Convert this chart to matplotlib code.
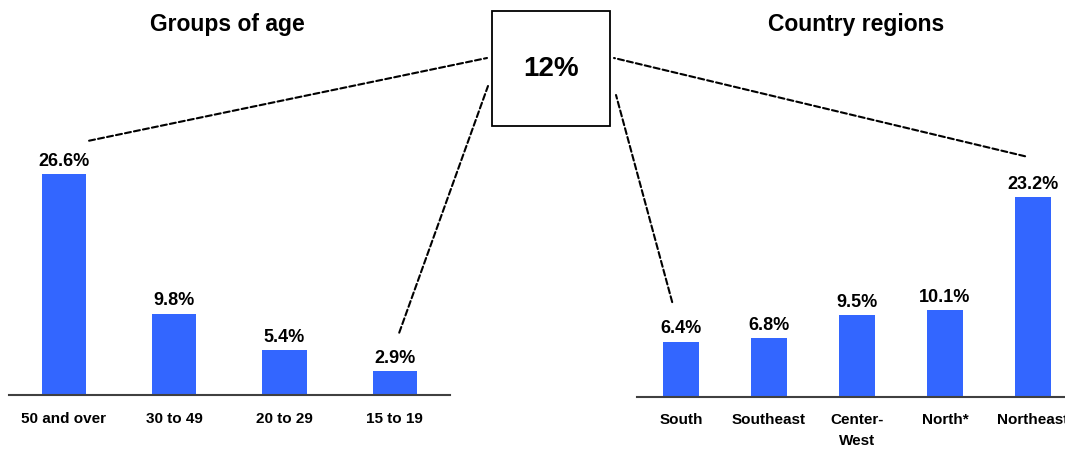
import matplotlib
matplotlib.use("Agg")
import matplotlib.pyplot as plt
from matplotlib.patches import Rectangle, ConnectionPatch

plt.rcParams["font.family"] = ["Liberation Sans", "DejaVu Sans"]
plt.rcParams["font.weight"] = "bold"

# Data
total_label = "12%"
age_groups = ["50 and over", "30 to 49", "20 to 29", "15 to 19"]
age_values = [26.6, 9.8, 5.4, 2.9]
regions = ["South", "Southeast", "Center-\nWest", "North*", "Northeast"]
region_values = [6.4, 6.8, 9.5, 10.1, 23.2]

BAR_COLOR = "#3366FF"
W, H = 1065, 453
fig = plt.figure(figsize=(W / 100, H / 100), dpi=100)


def px(x, y):
    """Pixel position (from top-left) to figure fraction."""
    return x / W, 1 - y / H


def bar_panel(rect, cats, vals, ymax, width, title, title_x):
    ax = fig.add_axes(rect)
    x = range(len(cats))
    ax.bar(x, vals, width=width, color=BAR_COLOR, zorder=2)
    for xi, v in zip(x, vals):
        ax.annotate(f"{v:.1f}%", (xi, v), xytext=(0, 6), textcoords="offset points",
                    ha="center", va="baseline", fontsize=13, fontweight="bold")
    ax.set_xlim(-0.5, len(cats) - 0.5)
    ax.set_ylim(0, ymax)
    ax.set_xticks(list(x))
    ax.set_xticklabels(cats, fontsize=11, fontweight="bold", linespacing=1.6)
    ax.tick_params(axis="x", length=0, pad=12)
    ax.set_yticks([])
    for s in ("top", "right", "left"):
        ax.spines[s].set_visible(False)
    ax.spines["bottom"].set_color("#404040")
    ax.spines["bottom"].set_linewidth(1.5)
    ax.patch.set_alpha(0)
    fig.text(*px(title_x, 25), title, ha="center", va="center",
             fontsize=16.5, fontweight="bold")
    return ax


ax_age = bar_panel([8.5 / W, (H - 395) / H, 441.5 / W, 30 * 8.31 / H],
                   age_groups, age_values, 30, 0.4, "Groups of age", 227)
ax_reg = bar_panel([637 / W, (H - 396.5) / H, 440 / W, 28 * 8.58 / H],
                   regions, region_values, 28, 0.41, "Country regions", 856)

# Central total box
bx0, by0 = px(492, 126)
bx1, by1 = px(610, 11)
fig.add_artist(Rectangle((bx0, by0), bx1 - bx0, by1 - by0, transform=fig.transFigure,
                         facecolor="white", edgecolor="black", linewidth=1.3))
fig.text((bx0 + bx1) / 2, (by0 + by1) / 2, total_label, ha="center", va="center",
         fontsize=20, fontweight="bold")

# Dashed connectors from the box to the extreme bars of each panel
dash = dict(linestyle=(0, (2.9, 1.5)), linewidth=1.5, color="black")
links = [
    (ax_age, (0 + 0.23, age_values[0] + 4.0), (487, 58)),
    (ax_age, (3 + 0.04, age_values[3] + 4.6), (488, 86)),
    (ax_reg, (4 - 0.09, region_values[4] + 4.8), (614, 58)),
    (ax_reg, (0 - 0.10, region_values[0] + 4.6), (616, 95)),
]
for ax, xy_data, xy_px in links:
    fig.add_artist(ConnectionPatch(xyA=xy_data, coordsA=ax.transData,
                                   xyB=px(*xy_px), coordsB=fig.transFigure, **dash))

fig.savefig("out.png", dpi=100)
